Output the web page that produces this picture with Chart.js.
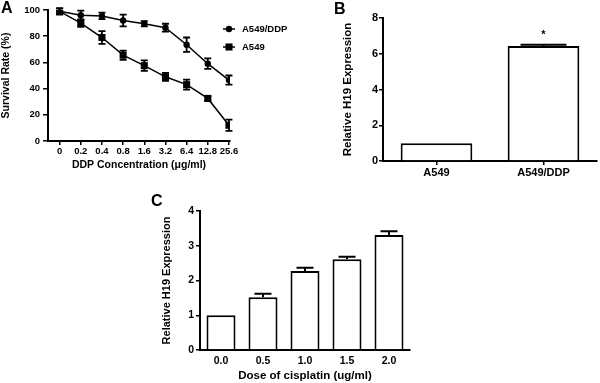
<!DOCTYPE html>
<html><head><meta charset="utf-8">
<script src="https://cdn.jsdelivr.net/npm/chart.js@4/dist/chart.umd.min.js"></script>
<style>
html,body{margin:0;padding:0;background:#fff;}
#wrap{position:relative;width:600px;height:383px;overflow:hidden;background:#fff;}
canvas{position:absolute;left:0;top:0;}
.lbl{position:absolute;font:bold 16px "Liberation Sans",Arial,sans-serif;color:#000;line-height:16px;}
</style></head><body>
<div id="wrap">
<canvas id="cA" width="600" height="383"></canvas>
<canvas id="cB" width="600" height="383"></canvas>
<canvas id="cC" width="600" height="383"></canvas>
<div class="lbl" style="left:1px;top:0px">A</div>
<div class="lbl" style="left:334px;top:1px">B</div>
<div class="lbl" style="left:151px;top:193px">C</div>
</div>
<script>
// ---- Panel A data ----
const doseLabelsA = ['0','0.2','0.4','0.8','1.6','3.2','6.4','12.8','25.6'];
const survivalDDP = [99, 96, 95.5, 92, 89.5, 86.5, 73.5, 59, 46.5];
const survivalDDPErr = [2, 3.5, 2.5, 4.5, 2, 3, 5.5, 4, 3.5];
const survivalA549 = [99, 90, 79, 65.5, 57.5, 49, 43, 32.5, 12];
const survivalA549Err = [2.5, 2.8, 4.8, 3.5, 4, 3, 3.8, 1.8, 4.3];

// ---- Panel B data ----
const cellLinesB = ['A549', 'A549/DDP'];
const h19B = [1.0, 6.43];
const h19BErr = [0, 0.08];
const sigB = ['', '*'];

// ---- Panel C data ----
const doseLabelsC = ['0.0', '0.5', '1.0', '1.5', '2.0'];
const h19C = [1.0, 1.52, 2.27, 2.61, 3.31];
const h19CErr = [0, 0.1, 0.1, 0.07, 0.11];

const FAM = '"Liberation Sans", Arial, sans-serif';
Chart.defaults.font.family = FAM;
Chart.defaults.font.weight = 'bold';
Chart.defaults.color = '#000';

const errorBarPlugin = {
  id: 'errorBars',
  afterDatasetsDraw(chart, args, opts) {
    const ctx = chart.ctx, ys = chart.scales.y;
    chart.data.datasets.forEach((ds, i) => {
      if (!ds.errors) return;
      const meta = chart.getDatasetMeta(i);
      meta.data.forEach((el, j) => {
        const e = ds.errors[j];
        if (!e) return;
        const raw = ds.data[j];
        const v = (typeof raw === 'object') ? raw.y : raw;
        const top = ys.getPixelForValue(v + e);
        const bot = opts.both ? ys.getPixelForValue(v - e) : ys.getPixelForValue(v);
        const hw = opts.cap / 2;
        ctx.save();
        ctx.strokeStyle = '#000';
        ctx.lineWidth = opts.lineWidth;
        ctx.beginPath();
        ctx.moveTo(el.x, top); ctx.lineTo(el.x, bot);
        ctx.moveTo(el.x - hw, top); ctx.lineTo(el.x + hw, top);
        if (opts.both) { ctx.moveTo(el.x - hw, bot); ctx.lineTo(el.x + hw, bot); }
        ctx.stroke();
        ctx.restore();
      });
    });
  }
};

const lineLegendPlugin = {
  id: 'lineLegend',
  afterDraw(chart, args, opts) {
    const ctx = chart.ctx;
    chart.data.datasets.forEach((ds, i) => {
      const y = opts.y0 + i * opts.dy;
      const cx = opts.x0 + opts.len / 2;
      ctx.save();
      ctx.strokeStyle = '#000'; ctx.fillStyle = '#000'; ctx.lineWidth = 1.5;
      ctx.beginPath(); ctx.moveTo(opts.x0, y); ctx.lineTo(opts.x0 + opts.len, y); ctx.stroke();
      const r = ds.pointRadius;
      ctx.beginPath();
      if (ds.pointStyle === 'rect') {
        const s = r * Math.SQRT1_2;
        ctx.rect(cx - s, y - s, 2 * s, 2 * s);
      } else {
        ctx.arc(cx, y, r, 0, Math.PI * 2);
      }
      ctx.fill();
      ctx.font = 'bold ' + opts.size + 'px ' + FAM;
      ctx.textBaseline = 'middle';
      ctx.textAlign = 'left';
      ctx.fillText(ds.label, opts.x0 + opts.len + opts.gap, y);
      ctx.restore();
    });
  }
};

const sigPlugin = {
  id: 'sig',
  afterDatasetsDraw(chart, args, opts) {
    const ctx = chart.ctx;
    const ds = chart.data.datasets[0];
    const meta = chart.getDatasetMeta(0);
    meta.data.forEach((el, j) => {
      const s = opts.marks[j];
      if (!s) return;
      const y = chart.scales.y.getPixelForValue(ds.data[j] + (ds.errors[j] || 0));
      ctx.save();
      ctx.fillStyle = '#000';
      ctx.font = 'bold ' + opts.size + 'px ' + FAM;
      ctx.textAlign = 'center';
      ctx.textBaseline = 'alphabetic';
      ctx.fillText(s, el.x, y - opts.gap);
      ctx.restore();
    });
  }
};

function axisCommon(tickLen, drawTicks) {
  return {
    grid: { drawOnChartArea: false, drawTicks: drawTicks, tickLength: tickLen, color: '#000', lineWidth: 1.5 },
    border: { display: true, color: '#000', width: 2 }
  };
}

// ---- Chart A ----
new Chart(document.getElementById('cA'), {
  type: 'line',
  data: {
    datasets: [
      { label: 'A549/DDP', data: doseLabelsA.map((_, i) => ({ x: i, y: survivalDDP[i] })), errors: survivalDDPErr,
        borderColor: '#000', backgroundColor: '#000', borderWidth: 1.5, pointStyle: 'circle', pointRadius: 3.2, pointBorderWidth: 0 },
      { label: 'A549', data: doseLabelsA.map((_, i) => ({ x: i, y: survivalA549[i] })), errors: survivalA549Err,
        borderColor: '#000', backgroundColor: '#000', borderWidth: 1.5, pointStyle: 'rect', pointRadius: 5, pointBorderWidth: 0 }
    ]
  },
  options: {
    responsive: false, animation: false, devicePixelRatio: 1,
    layout: { padding: { left: 0, right: 370, top: 10, bottom: 211 } },
    plugins: {
      legend: { display: false }, tooltip: { enabled: false },
      errorBars: { cap: 7, both: true, lineWidth: 1.8 },
      lineLegend: { x0: 223, len: 12, y0: 29, dy: 18, gap: 7, size: 9.5 }
    },
    scales: {
      x: Object.assign(axisCommon(4, true), {
        type: 'linear', min: -0.55, max: 8.05,
        afterBuildTicks: s => { s.ticks = doseLabelsA.map((_, i) => ({ value: i })); },
        afterFit: s => { s.height = 31; },
        ticks: { callback: v => doseLabelsA[v], font: { size: 9.5, weight: 'bold' }, color: '#000', padding: 1, maxRotation: 0, autoSkip: false },
        title: { display: true, text: 'DDP Concentration (μg/ml)', font: { size: 10.5, weight: 'bold' }, color: '#000', padding: { top: 0, bottom: 1 } }
      }),
      y: Object.assign(axisCommon(5, true), {
        min: 0, max: 100,
        afterFit: s => { s.width = 48; },
        ticks: { stepSize: 20, font: { size: 9.5, weight: 'bold' }, color: '#000', padding: 3 },
        title: { display: true, text: 'Survival Rate (%)', font: { size: 10.5, weight: 'bold' }, color: '#000', padding: { top: 0, bottom: 0 } }
      })
    }
  },
  plugins: [errorBarPlugin, lineLegendPlugin]
});

// ---- Chart B ----
new Chart(document.getElementById('cB'), {
  type: 'bar',
  data: {
    labels: cellLinesB,
    datasets: [{ data: h19B, errors: h19BErr, backgroundColor: '#fff', borderColor: '#000', borderWidth: 2,
      barPercentage: 0.67, categoryPercentage: 1 }]
  },
  options: {
    responsive: false, animation: false, devicePixelRatio: 1,
    layout: { padding: { left: 340, right: 3, top: 18, bottom: 192 } },
    plugins: {
      legend: { display: false }, tooltip: { enabled: false },
      errorBars: { cap: 46, both: false, lineWidth: 2 },
      sig: { marks: sigB, size: 11, gap: 7 }
    },
    scales: {
      x: Object.assign(axisCommon(4, true), {
        type: 'category', offset: true,
        afterFit: s => { s.height = 30; },
        ticks: { font: { size: 11, weight: 'bold' }, color: '#000', padding: 1, maxRotation: 0 }
      }),
      y: Object.assign(axisCommon(4, true), {
        min: 0, max: 8,
        afterFit: s => { s.width = 43; },
        ticks: { stepSize: 2, font: { size: 11, weight: 'bold' }, color: '#000', padding: 1 },
        title: { display: true, text: 'Relative H19 Expression', font: { size: 11.5, weight: 'bold' }, color: '#000', padding: { top: 1, bottom: 0 } }
      })
    }
  },
  plugins: [errorBarPlugin, sigPlugin]
});
Chart.getChart('cB').options.scales.x.grid.offset = false;
Chart.getChart('cB').update();

// ---- Chart C ----
new Chart(document.getElementById('cC'), {
  type: 'bar',
  data: {
    labels: doseLabelsC,
    datasets: [{ data: h19C, errors: h19CErr, backgroundColor: '#fff', borderColor: '#000', borderWidth: 2,
      barPercentage: 0.69, categoryPercentage: 1 }]
  },
  options: {
    responsive: false, animation: false, devicePixelRatio: 1,
    layout: { padding: { left: 160, right: 190, top: 211, bottom: 0 } },
    plugins: {
      legend: { display: false }, tooltip: { enabled: false },
      errorBars: { cap: 17, both: false, lineWidth: 2 }
    },
    scales: {
      x: Object.assign(axisCommon(4, false), {
        type: 'category', offset: true,
        afterFit: s => { s.height = 33; },
        ticks: { font: { size: 10.5, weight: 'bold' }, color: '#000', padding: 5, maxRotation: 0 },
        title: { display: true, text: 'Dose of cisplatin (ug/ml)', font: { size: 11.5, weight: 'bold' }, color: '#000', padding: { top: 0, bottom: 0 } }
      }),
      y: Object.assign(axisCommon(4, true), {
        min: 0, max: 4,
        afterFit: s => { s.width = 40; },
        ticks: { stepSize: 1, font: { size: 10.5, weight: 'bold' }, color: '#000', padding: 2 },
        title: { display: true, text: 'Relative H19 Expression', font: { size: 11, weight: 'bold' }, color: '#000', padding: { top: 0, bottom: 0 } }
      })
    }
  },
  plugins: [errorBarPlugin]
});
</script>
</body></html>
